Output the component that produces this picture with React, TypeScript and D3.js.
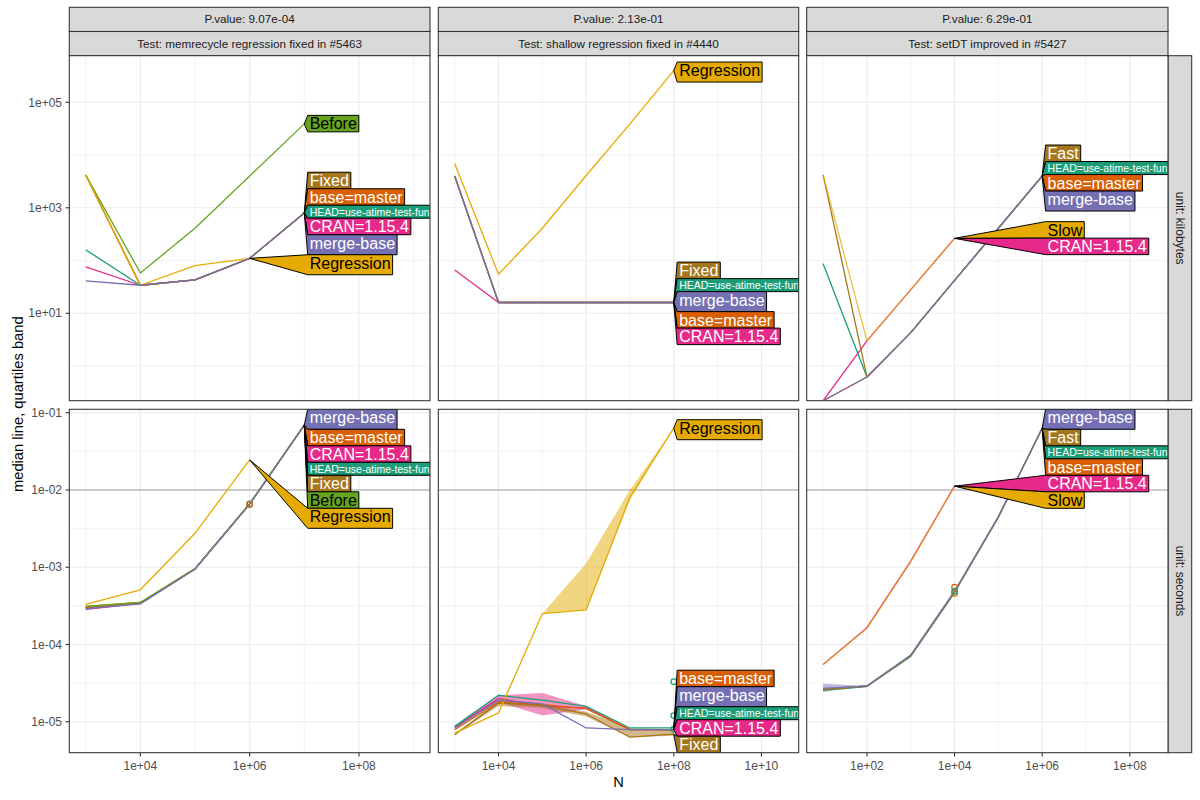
import React, { useMemo } from "react";
import * as d3 from "d3";

// ---------------- facet labels ----------------
const testNames = [
  "memrecycle regression fixed in #5463",
  "shallow regression fixed in #4440",
  "setDT improved in #5427",
];
const pValues = ["9.07e-04", "2.13e-01", "6.29e-01"];
const unitNames = ["kilobytes", "seconds"];

// ---------------- series ----------------
const seriesNames = [
  "CRAN=1.15.4",
  "HEAD=use-atime-test-funs",
  "base=master",
  "Fixed",
  "Fast",
  "Before",
  "Slow",
  "Regression",
  "merge-base",
];
const seriesColors = [
  "#E7298A",
  "#1B9E77",
  "#D95F02",
  "#A6761D",
  "#A6761D",
  "#66A61E",
  "#E6AB02",
  "#E6AB02",
  "#7570B3",
];
const seriesLineOpacity = [1, 1, 1, 1, 1, 1, 0.75, 1, 1];
const darkTextSeries = ["Before", "Slow", "Regression"];

// ---------------- axis limits & ticks ----------------
const xLimits = [
  [1e3, 1e9],
  [1e3, 3.0e10],
  [10, 3.14e8],
];
const yLimits = [
  [0.22, 7.65e5],
  [3.97e-6, 0.1107],
];
const xMajor = [
  [1e4, 1e6, 1e8],
  [1e4, 1e6, 1e8, 1e10],
  [1e2, 1e4, 1e6, 1e8],
];
const xMinor = [
  [1e3, 1e5, 1e7, 1e9],
  [1e3, 1e5, 1e7, 1e9],
  [1e1, 1e3, 1e5, 1e7],
];
const yMajor = [
  [10, 1e3, 1e5],
  [1e-5, 1e-4, 1e-3, 1e-2, 1e-1],
];
const yMinor = [
  [1, 100, 1e4],
  [3.162e-5, 3.162e-4, 3.162e-3, 3.162e-2],
];
const secondsReference = [0.01];

// ---------------- data: N values ----------------
const N_mem = [1e3, 1e4, 1e5, 1e6, 1e7];
const N_shallow = [1e3, 1e4, 1e5, 1e6, 1e7, 1e8];
const N_setDT = [10, 100, 1e3, 1e4, 1e5, 1e6];

// memrecycle, kilobytes
const memKB_Before = [4200, 58, 410, 4000, 39000];
const memKB_Regression = [4200, 34, 80, 110, null];
const memKB_Fixed = [4200, 34, 43, 110, 800];
const memKB_base = [4200, 34, 43, 110, 800];
const memKB_HEAD = [160, 34, 43, 110, 800];
const memKB_CRAN = [76, 34, 43, 110, 800];
const memKB_merge = [41, 34, 43, 110, 800];

// memrecycle, seconds
const memSec_Before = [3.1e-4, 3.5e-4, 9.6e-4, 6.6e-3, 6.9e-2];
const memSec_Regression = [3.3e-4, 5.1e-4, 2.75e-3, 2.45e-2, null];
const memSec_Fixed = [3.1e-4, 3.5e-4, 9.6e-4, 6.6e-3, 6.9e-2];
const memSec_base = [3.0e-4, 3.4e-4, 9.5e-4, 6.6e-3, 6.9e-2];
const memSec_HEAD = [3.0e-4, 3.45e-4, 9.5e-4, 6.6e-3, 6.9e-2];
const memSec_CRAN = [2.85e-4, 3.4e-4, 9.5e-4, 6.6e-3, 6.9e-2];
const memSec_merge = [2.9e-4, 3.35e-4, 9.4e-4, 6.5e-3, 6.9e-2];

// shallow, kilobytes
const shKB_Regression = [6900, 55, 410, 4100, 39000, 400000];
const shKB_Fixed = [4000, 16, 16, 16, 16, 16];
const shKB_HEAD = [4000, 16, 16, 16, 16, 16];
const shKB_base = [4000, 16, 16, 16, 16, 16];
const shKB_merge = [4000, 16, 16, 16, 16, 16];
const shKB_CRAN = [66, 16, 16, 16, 16, 16];

// shallow, seconds (median + quartile band)
const shSec_Regression = [7.1e-6, 1.3e-5, 2.5e-4, 2.8e-4, 8.1e-3, 6.3e-2];
const shSec_RegressionLo = [7.1e-6, 1.3e-5, 2.5e-4, 2.8e-4, 7.4e-3, 6.3e-2];
const shSec_RegressionHi = [7.1e-6, 1.3e-5, 2.5e-4, 1.12e-3, 1.0e-2, 6.3e-2];
const shSec_HEAD = [8.7e-6, 2.2e-5, 1.9e-5, 1.58e-5, 8.3e-6, 8.3e-6];
const shSec_CRAN = [8.5e-6, 2.0e-5, 1.6e-5, 1.5e-5, 7.9e-6, 7.9e-6];
const shSec_CRANLo = [8.5e-6, 1.8e-5, 1.2e-5, 1.45e-5, 7.9e-6, 7.9e-6];
const shSec_CRANHi = [8.5e-6, 2.2e-5, 2.35e-5, 1.6e-5, 7.9e-6, 7.9e-6];
const shSec_merge = [8.3e-6, 1.9e-5, 1.7e-5, 8.3e-6, 7.9e-6, 7.9e-6];
const shSec_base = [7.9e-6, 1.8e-5, 1.66e-5, 1.48e-5, 7.9e-6, 7.8e-6];
const shSec_Fixed = [6.8e-6, 1.74e-5, 1.62e-5, 1.26e-5, 6.3e-6, 6.9e-6];
const shSec_FixedLo = [6.8e-6, 1.6e-5, 1.5e-5, 1.17e-5, 6.3e-6, 6.6e-6];
const shSec_FixedHi = [6.8e-6, 1.9e-5, 1.75e-5, 1.35e-5, 8.3e-6, 8.0e-6];

// setDT, kilobytes
const dtKB_Slow = [4200, 3.0, 28, 263, null, null];
const dtKB_CRAN = [0.22, 3.0, 28, 263, null, null];
const dtKB_Fast = [4200, 0.62, 4.3, 42, 410, 4000];
const dtKB_HEAD = [87, 0.62, 4.3, 42, 410, 4000];
const dtKB_base = [0.22, 0.62, 4.3, 42, 410, 4000];
const dtKB_merge = [0.22, 0.62, 4.3, 42, 410, 4000];

// setDT, seconds
const dtSec_Slow = [5.5e-5, 1.62e-4, 1.17e-3, 1.12e-2, null, null];
const dtSec_CRAN = [5.5e-5, 1.65e-4, 1.2e-3, 1.12e-2, null, null];
const dtSec_Fast = [2.6e-5, 2.9e-5, 7.2e-5, 4.8e-4, 4.5e-3, 6.3e-2];
const dtSec_HEAD = [2.55e-5, 2.85e-5, 7.0e-5, 4.7e-4, 4.4e-3, 6.3e-2];
const dtSec_base = [2.6e-5, 2.9e-5, 7.2e-5, 4.8e-4, 4.5e-3, 6.3e-2];
const dtSec_merge = [2.7e-5, 2.9e-5, 7.3e-5, 4.9e-4, 4.5e-3, 6.3e-2];
const dtSec_mergeLo = [2.45e-5, 2.9e-5, 7.3e-5, 4.9e-4, 4.5e-3, 6.3e-2];
const dtSec_mergeHi = [3.1e-5, 2.9e-5, 7.3e-5, 4.9e-4, 4.5e-3, 6.3e-2];

// individual points
const markerPanel = ["memSec", "memSec", "shSec", "shSec", "shSec", "dtSec", "dtSec", "dtSec"];
const markerN = [1e6, 1e6, 1e8, 1e8, 1e8, 1e4, 1e4, 1e4];
const markerValue = [6.6e-3, 6.5e-3, 3.3e-5, 1.2e-5, 8.0e-6, 5.5e-4, 4.6e-4, 4.9e-4];
const markerSeries = [
  "HEAD=use-atime-test-funs",
  "base=master",
  "HEAD=use-atime-test-funs",
  "HEAD=use-atime-test-funs",
  "HEAD=use-atime-test-funs",
  "base=master",
  "base=master",
  "HEAD=use-atime-test-funs",
];

// label stacking order (top to bottom) per panel
const order_memKB = ["Before", "Fixed", "base=master", "HEAD=use-atime-test-funs", "CRAN=1.15.4", "merge-base", "Regression"];
const order_memSec = ["merge-base", "base=master", "CRAN=1.15.4", "HEAD=use-atime-test-funs", "Fixed", "Before", "Regression"];
const order_shKB = ["Regression", "Fixed", "HEAD=use-atime-test-funs", "merge-base", "base=master", "CRAN=1.15.4"];
const order_shSec = ["Regression", "base=master", "merge-base", "HEAD=use-atime-test-funs", "CRAN=1.15.4", "Fixed"];
const order_dtKB = ["Fast", "HEAD=use-atime-test-funs", "base=master", "merge-base", "Slow", "CRAN=1.15.4"];
const order_dtSec = ["merge-base", "Fast", "HEAD=use-atime-test-funs", "base=master", "CRAN=1.15.4", "Slow"];

type Ser = { name: string; values: (number | null)[]; lo?: number[]; hi?: number[] };
type Panel = { key: string; col: number; row: number; N: number[]; series: Ser[]; order: string[] };

const panels: Panel[] = [
  {
    key: "memKB", col: 0, row: 0, N: N_mem, order: order_memKB,
    series: [
      { name: "Before", values: memKB_Before },
      { name: "Regression", values: memKB_Regression },
      { name: "Fixed", values: memKB_Fixed },
      { name: "base=master", values: memKB_base },
      { name: "HEAD=use-atime-test-funs", values: memKB_HEAD },
      { name: "CRAN=1.15.4", values: memKB_CRAN },
      { name: "merge-base", values: memKB_merge },
    ],
  },
  {
    key: "memSec", col: 0, row: 1, N: N_mem, order: order_memSec,
    series: [
      { name: "Before", values: memSec_Before },
      { name: "Regression", values: memSec_Regression },
      { name: "Fixed", values: memSec_Fixed },
      { name: "base=master", values: memSec_base },
      { name: "HEAD=use-atime-test-funs", values: memSec_HEAD },
      { name: "CRAN=1.15.4", values: memSec_CRAN },
      { name: "merge-base", values: memSec_merge },
    ],
  },
  {
    key: "shKB", col: 1, row: 0, N: N_shallow, order: order_shKB,
    series: [
      { name: "Regression", values: shKB_Regression },
      { name: "Fixed", values: shKB_Fixed },
      { name: "HEAD=use-atime-test-funs", values: shKB_HEAD },
      { name: "base=master", values: shKB_base },
      { name: "CRAN=1.15.4", values: shKB_CRAN },
      { name: "merge-base", values: shKB_merge },
    ],
  },
  {
    key: "shSec", col: 1, row: 1, N: N_shallow, order: order_shSec,
    series: [
      { name: "Regression", values: shSec_Regression, lo: shSec_RegressionLo, hi: shSec_RegressionHi },
      { name: "Fixed", values: shSec_Fixed, lo: shSec_FixedLo, hi: shSec_FixedHi },
      { name: "HEAD=use-atime-test-funs", values: shSec_HEAD },
      { name: "base=master", values: shSec_base },
      { name: "CRAN=1.15.4", values: shSec_CRAN, lo: shSec_CRANLo, hi: shSec_CRANHi },
      { name: "merge-base", values: shSec_merge },
    ],
  },
  {
    key: "dtKB", col: 2, row: 0, N: N_setDT, order: order_dtKB,
    series: [
      { name: "Slow", values: dtKB_Slow },
      { name: "Fast", values: dtKB_Fast },
      { name: "HEAD=use-atime-test-funs", values: dtKB_HEAD },
      { name: "base=master", values: dtKB_base },
      { name: "CRAN=1.15.4", values: dtKB_CRAN },
      { name: "merge-base", values: dtKB_merge },
    ],
  },
  {
    key: "dtSec", col: 2, row: 1, N: N_setDT, order: order_dtSec,
    series: [
      { name: "Slow", values: dtSec_Slow },
      { name: "Fast", values: dtSec_Fast },
      { name: "HEAD=use-atime-test-funs", values: dtSec_HEAD },
      { name: "base=master", values: dtSec_base },
      { name: "CRAN=1.15.4", values: dtSec_CRAN },
      { name: "merge-base", values: dtSec_merge, lo: dtSec_mergeLo, hi: dtSec_mergeHi },
    ],
  },
];

// ---------------- layout ----------------
const W = 1200;
const H = 800;
const colX: [number, number][] = [
  [69.3, 430],
  [438.3, 798.7],
  [806.7, 1168],
];
const rowY: [number, number][] = [
  [55.7, 400.7],
  [409.3, 752.7],
];
const stripTop = 7.3;
const stripH = 24.2;
const rightStrip: [number, number] = [1168, 1191.7];
const FONT = '"Liberation Sans", Arial, Helvetica, sans-serif';

const colorOf = (n: string) => seriesColors[seriesNames.indexOf(n)];
const opacityOf = (n: string) => seriesLineOpacity[seriesNames.indexOf(n)];
const fmtPow = (v: number) => {
  const e = Math.round(Math.log10(v));
  return `1e${e < 0 ? "-" : "+"}${String(Math.abs(e)).padStart(2, "0")}`;
};

function isotonic(u: number[]): number[] {
  const blocks: { sum: number; n: number }[] = [];
  for (const v of u) {
    blocks.push({ sum: v, n: 1 });
    while (blocks.length > 1) {
      const b = blocks[blocks.length - 1];
      const a = blocks[blocks.length - 2];
      if (a.sum / a.n > b.sum / b.n) {
        a.sum += b.sum;
        a.n += b.n;
        blocks.pop();
      } else break;
    }
  }
  const out: number[] = [];
  for (const b of blocks) for (let i = 0; i < b.n; i++) out.push(b.sum / b.n);
  return out;
}

export default function App() {
  const measure = useMemo(() => {
    const c = document.createElement("canvas").getContext("2d")!;
    return (s: string, size: number) => {
      c.font = `${size}px ${FONT}`;
      return c.measureText(s).width;
    };
  }, []);

  const xScales = colX.map((range, i) => {
    const la = Math.log10(xLimits[i][0]);
    const lb = Math.log10(xLimits[i][1]);
    const pad = (lb - la) * 0.05;
    return d3.scaleLog().domain([10 ** (la - pad), 10 ** (lb + pad)]).range(range);
  });
  const yScales = rowY.map((range, i) => d3.scaleLog().domain(yLimits[i]).range([range[1], range[0]]));

  const drawOrder = (a: Ser, b: Ser) => seriesNames.indexOf(a.name) - seriesNames.indexOf(b.name);

  return (
    <svg
      width={W}
      height={H}
      viewBox={`0 0 ${W} ${H}`}
      style={{ position: "absolute", left: 0, top: 0, background: "#fff", fontFamily: FONT }}
    >
      <rect x={0} y={0} width={W} height={H} fill="#fff" />
      <defs>
        {panels.map((p) => (
          <clipPath id={`clip-${p.key}`} key={p.key}>
            <rect
              x={colX[p.col][0]}
              y={rowY[p.row][0]}
              width={colX[p.col][1] - colX[p.col][0]}
              height={rowY[p.row][1] - rowY[p.row][0]}
            />
          </clipPath>
        ))}
      </defs>

      {/* top strips */}
      {colX.map((cx, i) => (
        <g key={`strip-${i}`}>
          <rect x={cx[0]} y={stripTop} width={cx[1] - cx[0]} height={stripH} fill="#d9d9d9" stroke="#333" strokeWidth={1.07} />
          <text x={(cx[0] + cx[1]) / 2} y={stripTop + stripH / 2} dy="0.35em" textAnchor="middle" fontSize={11.7} fill="#1a1a1a">
            {`P.value: ${pValues[i]}`}
          </text>
          <rect x={cx[0]} y={stripTop + stripH} width={cx[1] - cx[0]} height={rowY[0][0] - stripTop - stripH} fill="#d9d9d9" stroke="#333" strokeWidth={1.07} />
          <text x={(cx[0] + cx[1]) / 2} y={(stripTop + stripH + rowY[0][0]) / 2} dy="0.35em" textAnchor="middle" fontSize={11.7} fill="#1a1a1a">
            {`Test: ${testNames[i]}`}
          </text>
        </g>
      ))}

      {/* right strips */}
      {rowY.map((ry, i) => (
        <g key={`rstrip-${i}`}>
          <rect x={rightStrip[0]} y={ry[0]} width={rightStrip[1] - rightStrip[0]} height={ry[1] - ry[0]} fill="#d9d9d9" stroke="#333" strokeWidth={1.07} />
          <text
            transform={`translate(${(rightStrip[0] + rightStrip[1]) / 2},${(ry[0] + ry[1]) / 2}) rotate(90)`}
            dy="0.35em"
            textAnchor="middle"
            fontSize={12}
            fill="#1a1a1a"
          >
            {`unit: ${unitNames[i]}`}
          </text>
        </g>
      ))}

      {/* panels */}
      {panels.map((p) => {
        const x = xScales[p.col];
        const y = yScales[p.row];
        const [x0, x1] = colX[p.col];
        const [y0, y1] = rowY[p.row];
        const idx = p.N.map((_, i) => i);
        const line = (vals: (number | null)[]) =>
          d3
            .line<number>()
            .defined((i) => vals[i] != null)
            .x((i) => x(p.N[i]))
            .y((i) => y(vals[i] as number))(idx) || "";
        const area = (lo: number[], hi: number[]) =>
          d3
            .area<number>()
            .x((i) => x(p.N[i]))
            .y0((i) => y(lo[i]))
            .y1((i) => y(hi[i]))(idx) || "";
        const sorted = [...p.series].sort(drawOrder);

        // labels
        const maxN = d3.max(p.N)!;
        const boxLeft = x(maxN) + 3.4;
        const labs = p.order.map((name) => {
          const s = p.series.find((q) => q.name === name)!;
          let last = s.values.length - 1;
          while (s.values[last] == null) last--;
          const small = name.startsWith("HEAD");
          const size = small ? 10.5 : 16;
          const up = small ? 6.5 : 8.5;
          const down = small ? 6.5 : /[gpqyj]/.test(name) ? 11.5 : 8;
          return {
            name,
            tx: x(p.N[last]),
            ty: y(s.values[last] as number),
            size,
            up,
            down,
            w: measure(name, size) + 4,
            c: 0,
          };
        });
        const offs: number[] = [];
        labs.forEach((l, i) => {
          offs.push(i === 0 ? 0 : offs[i - 1] + labs[i - 1].down + l.up);
        });
        const iso = isotonic(labs.map((l, i) => l.ty - offs[i]));
        const lo = y0 + labs[0].up;
        const hi = y1 - (offs[labs.length - 1] + labs[labs.length - 1].down);
        iso.forEach((s, i) => {
          labs[i].c = Math.min(Math.max(s, lo), hi) + offs[i];
        });

        const marks = markerPanel
          .map((k, i) => ({ k, i }))
          .filter((m) => m.k === p.key);

        return (
          <g key={p.key}>
            <rect x={x0} y={y0} width={x1 - x0} height={y1 - y0} fill="#fff" />
            {/* minor grid */}
            {xMinor[p.col].map((v) => (
              <line key={`xm${v}`} x1={x(v)} x2={x(v)} y1={y0} y2={y1} stroke="#ebebeb" strokeWidth={0.6} />
            ))}
            {yMinor[p.row].map((v) => (
              <line key={`ym${v}`} x1={x0} x2={x1} y1={y(v)} y2={y(v)} stroke="#ebebeb" strokeWidth={0.6} />
            ))}
            {xMajor[p.col].map((v) => (
              <line key={`xM${v}`} x1={x(v)} x2={x(v)} y1={y0} y2={y1} stroke="#ebebeb" strokeWidth={1.1} />
            ))}
            {yMajor[p.row].map((v) => (
              <line key={`yM${v}`} x1={x0} x2={x1} y1={y(v)} y2={y(v)} stroke="#ebebeb" strokeWidth={1.1} />
            ))}
            <g clipPath={`url(#clip-${p.key})`}>
              {p.row === 1 &&
                secondsReference.map((v) => (
                  <line key={`ref${v}`} x1={x0} x2={x1} y1={y(v)} y2={y(v)} stroke="#bdbdbd" strokeWidth={1.5} />
                ))}
              {sorted
                .filter((s) => s.lo && s.hi)
                .map((s) => (
                  <path key={`band-${s.name}`} d={area(s.lo!, s.hi!)} fill={colorOf(s.name)} fillOpacity={0.5} stroke="none" />
                ))}
              {sorted.map((s) => (
                <path
                  key={`line-${s.name}`}
                  d={line(s.values)}
                  fill="none"
                  stroke={colorOf(s.name)}
                  strokeOpacity={opacityOf(s.name)}
                  strokeWidth={1.3}
                  strokeLinejoin="round"
                />
              ))}
              {marks.map(({ i }) => (
                <circle
                  key={`mk${i}`}
                  cx={x(markerN[i])}
                  cy={y(markerValue[i])}
                  r={2.8}
                  fill="none"
                  stroke={colorOf(markerSeries[i])}
                  strokeWidth={1.2}
                />
              ))}
              {labs.map((l) => {
                const top = l.c - l.up;
                const bot = l.c + l.down;
                const pts = `${l.tx},${l.ty} ${boxLeft},${top} ${boxLeft + l.w},${top} ${boxLeft + l.w},${bot} ${boxLeft},${bot}`;
                return (
                  <g key={`lab-${l.name}`}>
                    <polygon points={pts} fill={colorOf(l.name)} stroke="#000" strokeWidth={1} strokeLinejoin="miter" />
                    <text
                      x={boxLeft + 2}
                      y={l.c + (l.size === 16 ? 5.6 : 4)}
                      fontSize={l.size}
                      fill={darkTextSeries.includes(l.name) ? "#000" : "#fff"}
                    >
                      {l.name}
                    </text>
                  </g>
                );
              })}
            </g>
            <rect x={x0} y={y0} width={x1 - x0} height={y1 - y0} fill="none" stroke="#333" strokeWidth={1.07} />
          </g>
        );
      })}

      {/* y axes */}
      {rowY.map((ry, r) => (
        <g key={`yaxis-${r}`}>
          {yMajor[r].map((v) => {
            const yy = yScales[r](v);
            return (
              <g key={v}>
                <line x1={colX[0][0] - 3.7} x2={colX[0][0]} y1={yy} y2={yy} stroke="#333" strokeWidth={1.07} />
                <text x={62} y={yy} dy="0.35em" textAnchor="end" fontSize={12} fill="#4d4d4d">
                  {fmtPow(v)}
                </text>
              </g>
            );
          })}
        </g>
      ))}

      {/* x axes */}
      {colX.map((cx, c) => (
        <g key={`xaxis-${c}`}>
          {xMajor[c].map((v) => {
            const xx = xScales[c](v);
            return (
              <g key={v}>
                <line x1={xx} x2={xx} y1={rowY[1][1]} y2={rowY[1][1] + 3.7} stroke="#333" strokeWidth={1.07} />
                <text x={xx} y={770} textAnchor="middle" fontSize={12} fill="#4d4d4d">
                  {fmtPow(v)}
                </text>
              </g>
            );
          })}
        </g>
      ))}

      {/* axis titles */}
      <text x={(colX[0][0] + colX[2][1]) / 2} y={787} textAnchor="middle" fontSize={14.7} fill="#000">
        N
      </text>
      <text
        transform={`translate(22.5,${(rowY[0][0] + rowY[1][1]) / 2}) rotate(-90)`}
        textAnchor="middle"
        fontSize={14.7}
        fill="#000"
      >
        median line, quartiles band
      </text>
    </svg>
  );
}
